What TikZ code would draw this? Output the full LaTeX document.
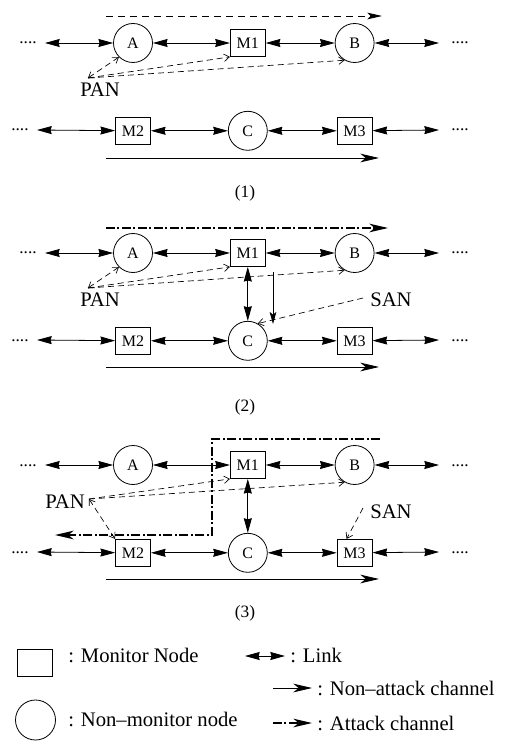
\documentclass[tikz,border=0pt]{standalone}
\usepackage{fontspec}
\setmainfont{Liberation Serif}
\usetikzlibrary{arrows.meta, positioning}

\begin{document}
\begin{tikzpicture}[
  x=0.75pt, y=-0.75pt,
  >={Straight Barb[length=4pt,width=5.5pt]},
  mon/.style={rectangle, draw, line width=0.6pt, minimum width=26.25pt, minimum height=20.25pt, inner sep=1pt, font=\fontsize{12}{13}\selectfont},
  nmon/.style={circle, draw, line width=0.6pt, minimum size=29.25pt, inner sep=0pt, font=\fontsize{12}{13}\selectfont},
  link/.style={{Stealth[length=11pt,width=6pt,inset=0.8pt]}-{Stealth[length=11pt,width=6pt,inset=0.8pt]}, line width=0.6pt},
  chan/.style={-{Stealth[length=14pt,width=6.5pt,inset=4pt]}, line width=0.6pt},
  attack/.style={chan, line width=0.9pt, dash pattern=on 6.5pt off 2pt on 1.5pt off 2pt},
  dchan/.style={-{Stealth[length=11pt,width=5pt,inset=2.5pt]}, line width=0.6pt, dash pattern=on 5pt off 4pt},
  probe/.style={->, line width=0.5pt, dash pattern=on 4.5pt off 3pt},
  lbl/.style={font=\fontsize{15.5}{17}\selectfont},
  dots/.style={anchor=base, inner sep=0pt, font=\fontsize{13}{13}\selectfont},
  sublbl/.style={font=\fontsize{13}{15}\selectfont}
]
  \useasboundingbox (0,0) rectangle (515,741);

  % ---- (1)
  \node[nmon] (A1) at (133,43) {A};
  \node[mon, right=57.75pt of A1] (M11) {M1};
  \node[nmon, right=51.75pt of M11] (B1) {B};
  \node[mon, below=40.5pt of A1] (M21) {M2};
  \node[nmon, right=57.75pt of M21] (C1) {C};
  \node[mon, right=51.75pt of C1] (M31) {M3};

  \node[dots] (dlt1) at (28,44) {....};
  \node[dots] (drt1) at (460,44) {....};
  \node[dots] (dlb1) at (20,131) {....};
  \node[dots] (drb1) at (460,131) {....};
  \coordinate (lt1) at (45,43);
  \coordinate (rt1) at (439,43);
  \coordinate (lb1) at (37,130);
  \coordinate (rb1) at (439,130);

  \draw[link] (lt1) -- (A1);
  \draw[link] (A1) -- (M11);
  \draw[link] (M11) -- (B1);
  \draw[link] (B1) -- (rt1);
  \draw[link] (lb1) -- (M21);
  \draw[link] (M21) -- (C1);
  \draw[link] (C1) -- (M31);
  \draw[link] (M31) -- (rb1);

  \coordinate (t1s) at (106,16);
  \coordinate (t1e) at (382,16);
  \coordinate (n1s) at (106,158);
  \coordinate (n1e) at (379,158);
  \draw[dchan] (t1s) -- (t1e);
  \draw[chan] (n1s) -- (n1e);

  \node[lbl] (PAN1) at (100,89.5) {PAN};
  \coordinate (p1) at (88,78);
  \draw[probe, <->] (p1) -- (A1.south west);
  \draw[probe] (p1) -- (M11.south west);
  \draw[probe] (p1) -- (B1.240);

  \node[sublbl] (sub1) at (245,193) {(1)};

  % ---- (2)
  \node[nmon] (A2) at (133,253) {A};
  \node[mon, right=57.75pt of A2] (M12) {M1};
  \node[nmon, right=51.75pt of M12] (B2) {B};
  \node[mon, below=40.5pt of A2] (M22) {M2};
  \node[nmon, right=57.75pt of M22] (C2) {C};
  \node[mon, right=51.75pt of C2] (M32) {M3};

  \node[dots] (dlt2) at (28,254) {....};
  \node[dots] (drt2) at (460,254) {....};
  \node[dots] (dlb2) at (20,341) {....};
  \node[dots] (drb2) at (460,341) {....};
  \coordinate (lt2) at (45,253);
  \coordinate (rt2) at (439,253);
  \coordinate (lb2) at (37,340);
  \coordinate (rb2) at (439,340);

  \draw[link] (lt2) -- (A2);
  \draw[link] (A2) -- (M12);
  \draw[link] (M12) -- (B2);
  \draw[link] (B2) -- (rt2);
  \draw[link] (lb2) -- (M22);
  \draw[link] (M22) -- (C2);
  \draw[link] (C2) -- (M32);
  \draw[link] (M32) -- (rb2);
  \draw[link] (M12) -- (C2);

  \coordinate (t2s) at (106,228);
  \coordinate (t2e) at (388,228);
  \coordinate (n2s) at (106,367);
  \coordinate (n2e) at (379,367);
  \coordinate (v2s) at (273,272);
  \coordinate (v2e) at (273,324);
  \draw[attack] (t2s) -- (t2e);
  \draw[chan] (n2s) -- (n2e);
  \draw[chan, -{Stealth[length=9pt,width=5pt,inset=2pt]}] (v2s) -- (v2e);

  \node[lbl] (PAN2) at (100,300) {PAN};
  \coordinate (p2) at (88,288);
  \draw[probe, <->] (p2) -- (A2.south west);
  \draw[probe] (p2) -- (M12.south west);
  \draw[probe] (p2) -- (B2.240);

  \node[lbl] (SAN2) at (391,300) {SAN};
  \coordinate (s2) at (363,298);
  \draw[probe] (s2) -- (C2.60);

  \node[sublbl] (sub2) at (245,407) {(2)};

  % ---- (3)
  \node[nmon] (A3) at (133,465) {A};
  \node[mon, right=57.75pt of A3] (M13) {M1};
  \node[nmon, right=51.75pt of M13] (B3) {B};
  \node[mon, below=40.5pt of A3] (M23) {M2};
  \node[nmon, right=57.75pt of M23] (C3) {C};
  \node[mon, right=51.75pt of C3] (M33) {M3};

  \node[dots] (dlt3) at (28,466) {....};
  \node[dots] (drt3) at (460,466) {....};
  \node[dots] (dlb3) at (20,553) {....};
  \node[dots] (drb3) at (460,553) {....};
  \coordinate (lt3) at (45,465);
  \coordinate (rt3) at (439,465);
  \coordinate (lb3) at (37,552);
  \coordinate (rb3) at (439,552);

  \draw[link] (lt3) -- (A3);
  \draw[link] (A3) -- (M13);
  \draw[link] (M13) -- (B3);
  \draw[link] (B3) -- (rt3);
  \draw[link] (lb3) -- (M23);
  \draw[link] (M23) -- (C3);
  \draw[link] (C3) -- (M33);
  \draw[link] (M33) -- (rb3);
  \draw[link] (M13) -- (C3);

  \coordinate (t3s) at (380,439);
  \coordinate (k3) at (212,535);
  \coordinate (t3e) at (55,535);
  \coordinate (n3s) at (106,579);
  \coordinate (n3e) at (379,579);
  \draw[attack] (t3s) -| (k3) -- (t3e);
  \draw[chan] (n3s) -- (n3e);

  \node[lbl] (PAN3) at (65,501.5) {PAN};
  \coordinate (p3) at (89,499);
  \draw[probe] (p3) -- (M13.south west);
  \draw[probe] (p3) -- (B3.240);
  \draw[probe, <->] (p3) -- (M23.north west);

  \node[lbl] (SAN3) at (391,511.5) {SAN};
  \coordinate (s3) at (363,508);
  \draw[probe] (s3) -- (M33.120);

  \node[sublbl] (sub3) at (245,613) {(3)};

  % ---- legend
  \node[mon] (keymon) at (35,663) {};
  \node[nmon, minimum size=30pt] (keynmon) at (35.5,720) {};
  \node[lbl, anchor=base west, inner sep=0pt] (txtmon) at (68,662) {: Monitor Node};
  \node[lbl, anchor=base west, inner sep=0pt] (txtnmon) at (68,726) {: Non--monitor node};

  \coordinate (kl1) at (245,656);
  \coordinate (kl2) at (285,656);
  \coordinate (kn1) at (273,688);
  \coordinate (kn2) at (312,688);
  \coordinate (ka1) at (273,723);
  \coordinate (ka2) at (312,723);
  \draw[link] (kl1) -- (kl2);
  \draw[chan] (kn1) -- (kn2);
  \draw[attack] (ka1) -- (ka2);
  \node[lbl, anchor=base west, inner sep=0pt] (txtlink) at (290,662) {: Link};
  \node[lbl, anchor=base west, inner sep=0pt] (txtnatk) at (317,695) {: Non--attack channel};
  \node[lbl, anchor=base west, inner sep=0pt] (txtatk) at (317,730) {: Attack channel};
\end{tikzpicture}
\end{document}
